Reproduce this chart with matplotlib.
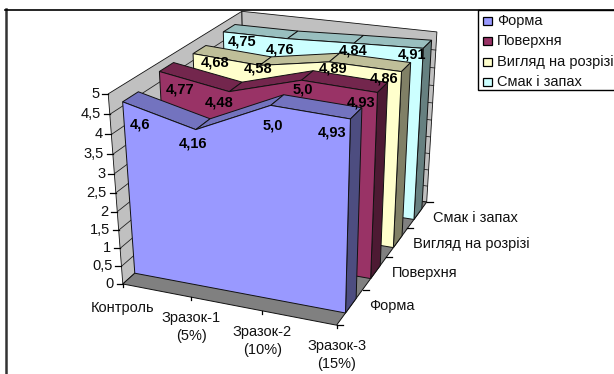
import matplotlib
matplotlib.use('Agg')
import matplotlib.pyplot as plt
from matplotlib.patches import Polygon, Rectangle
import numpy as np

plt.rcParams['font.family'] = ['Liberation Sans', 'DejaVu Sans']

categories = ['Контроль', 'Зразок-1\n(5%)', 'Зразок-2\n(10%)', 'Зразок-3\n(15%)']
series_names = ['Форма', 'Поверхня', 'Вигляд на розрізі', 'Смак і запах']
forma = [4.6, 4.16, 5.0, 4.93]
poverkhnia = [4.77, 4.48, 5.0, 4.93]
vyhliad = [4.68, 4.58, 4.89, 4.86]
smak = [4.75, 4.76, 4.84, 4.91]
forma_text = ['4,6', '4,16', '5,0', '4,93']
poverkhnia_text = ['4,77', '4,48', '5,0', '4,93']
vyhliad_text = ['4,68', '4,58', '4,89', '4,86']
smak_text = ['4,75', '4,76', '4,84', '4,91']
value_ticks = [0, 0.5, 1, 1.5, 2, 2.5, 3, 3.5, 4, 4.5, 5]
value_tick_text = ['0', '0,5', '1', '1,5', '2', '2,5', '3', '3,5', '4', '4,5', '5']

all_values = [forma, poverkhnia, vyhliad, smak]
all_text = [forma_text, poverkhnia_text, vyhliad_text, smak_text]
# front, top, side
colours = [('#9999FF', '#7373BF', '#4D4D80'),
           ('#993366', '#73264D', '#4D1A33'),
           ('#FFFFCC', '#BFBF99', '#808066'),
           ('#CCFFFF', '#99BFBF', '#668080')]
# data label shift from the front top vertex, per series and category
label_shift = [[(17, 23), (-3, 14), (2, 20), (-18, 14)],
               [(21, 18), (-10, 11), (1, 9), (-16, 10)],
               [(22, 9), (-2, 3), (4, 7), (-17, 7)],
               [(19, 10), (-7, 11), (-1, 7), (-11, 6)]]

# ribbon extent inside each depth division
ribbon_front = 0.33
ribbon_back = 0.74
f0 = ribbon_front/4

# camera: box points (x, depth, height in 0..1) against screen pixels
box = np.array([[0, 0, 0], [1, 0, 0], [1, 1, 0], [0, 1, 0],
                [0, 0, 1], [0, 1, 1], [1, 1, 1],
                [1, .25, 0], [1, .5, 0], [1, .75, 0],
                [1/3, 0, 0], [2/3, 0, 0],
                [0, f0, 0], [1, f0, 0], [0, f0, .92], [1, f0, .986]], float)
screen = np.array([[123, 283], [337, 325], [427, 201], [245, 176],
                   [109, 93], [242, 11], [437, 32],
                   [363, 289], [386, 257], [407, 228],
                   [192, 298], [262, 312],
                   [134, 272], [345, 314], [122, 102], [350, 120]], float)
rows = []
rhs = []
for (a, b, c), (u, v) in zip(box, screen):
    rows.append([a, b, c, 1, 0, 0, 0, 0, -u*a, -u*b, -u*c])
    rows.append([0, 0, 0, 0, a, b, c, 1, -v*a, -v*b, -v*c])
    rhs += [u, v]
cam = np.linalg.lstsq(np.array(rows), np.array(rhs), rcond=None)[0]
cam = np.append(cam, 1).reshape(3, 4)


def proj(x, d, val):
    p = cam @ np.array([x, d, val/5., 1.])
    return p[0]/p[2], p[1]/p[2]


fig = plt.figure(figsize=(6.14, 3.74), dpi=100)
ax = fig.add_axes([0, 0, 1, 1])
ax.set_xlim(0, 614)
ax.set_ylim(374, 0)
ax.axis('off')

# frame shows only on the top and left
ax.plot([6, 6], [9, 374], color='#333333', lw=1.8, zorder=0.5)
ax.plot([5, 614], [9.5, 9.5], color='black', lw=1.2, zorder=0.5)


def quad(pts, fc, z=1, lw=0.7):
    ax.add_patch(Polygon(pts, closed=True, fc=fc, ec='#111111', lw=lw, zorder=z))


# walls and floor
quad([proj(0, 0, 0), proj(0, 1, 0), proj(0, 1, 5), proj(0, 0, 5)], '#C0C0C0', lw=0.6)
quad([proj(0, 1, 0), proj(1, 1, 0), proj(1, 1, 5), proj(0, 1, 5)], '#C0C0C0', lw=0.6)
quad([proj(0, 0, 0), proj(1, 0, 0), proj(1, 1, 0), proj(0, 1, 0)], '#808080')
for v in value_ticks[1:-1]:
    ax.plot(*zip(proj(0, 0, v), proj(0, 1, v), proj(1, 1, v)), color='#222222', lw=0.6, zorder=1.5)

# axis ticks and labels
xs = np.linspace(0, 1, len(categories))
for v, t in zip(value_ticks, value_tick_text):
    px, py = proj(0, 0, v)
    ax.plot([px-6, px], [py, py], color='black', lw=0.9, zorder=2)
    ax.text(px-9, py, t, ha='right', va='center', fontsize=10.5, color='#111111')
for k, t in enumerate(categories):
    px, py = proj(xs[k], 0, 0)
    ax.plot([px, px], [py, py+3], color='black', lw=0.9, zorder=2)
    ax.text(px, py+(17 if k == 0 else 14), t, ha='center', va='top',
            fontsize=10.5, color='#111111', linespacing=1.35)
ds = np.linspace(0, 1, len(series_names)+1)
for d in ds:
    px, py = proj(1, d, 0)
    ax.plot([px, px+6], [py, py], color='black', lw=0.9, zorder=2)
for i, name in enumerate(series_names):
    px, py = proj(1, ds[i+1], 0)
    ax.text(px+6, py+16, name, ha='left', va='center', fontsize=10.5, color='#111111')

# ribbons, back to front
for i in range(3, -1, -1):
    vals = all_values[i]
    front = ds[i] + ribbon_front/4
    back = ds[i] + ribbon_back/4
    z = 10 + (3-i)
    c_front, c_top, c_side = colours[i]
    for k in range(len(vals)-1):
        quad([proj(xs[k], front, vals[k]), proj(xs[k+1], front, vals[k+1]),
              proj(xs[k+1], back, vals[k+1]), proj(xs[k], back, vals[k])], c_top, z)
    quad([proj(1, front, 0), proj(1, back, 0), proj(1, back, vals[-1]), proj(1, front, vals[-1])], c_side, z)
    face = [proj(0, front, 0)] + [proj(x, front, v) for x, v in zip(xs, vals)] + [proj(1, front, 0)]
    quad(face, c_front, z)
    for k, t in enumerate(all_text[i]):
        px, py = proj(xs[k], front, vals[k])
        ax.text(px+label_shift[i][k][0], py+label_shift[i][k][1], t, ha='center', va='center', fontsize=10.5,
                fontweight='bold', color='black', zorder=30)

# legend box, open on the right
ax.add_patch(Rectangle((478, 9.5), 140, 80.5, fc='white', ec='black', lw=1, zorder=40, clip_on=True))
for i, name in enumerate(series_names):
    y = 21 + i*20.3
    ax.add_patch(Rectangle((483, y-4), 8.5, 8, fc=colours[i][0], ec='black', lw=0.9, zorder=41))
    ax.text(497, y, name, ha='left', va='center', fontsize=10.5, color='#111111', zorder=41)

fig.savefig('out.png', dpi=100)
